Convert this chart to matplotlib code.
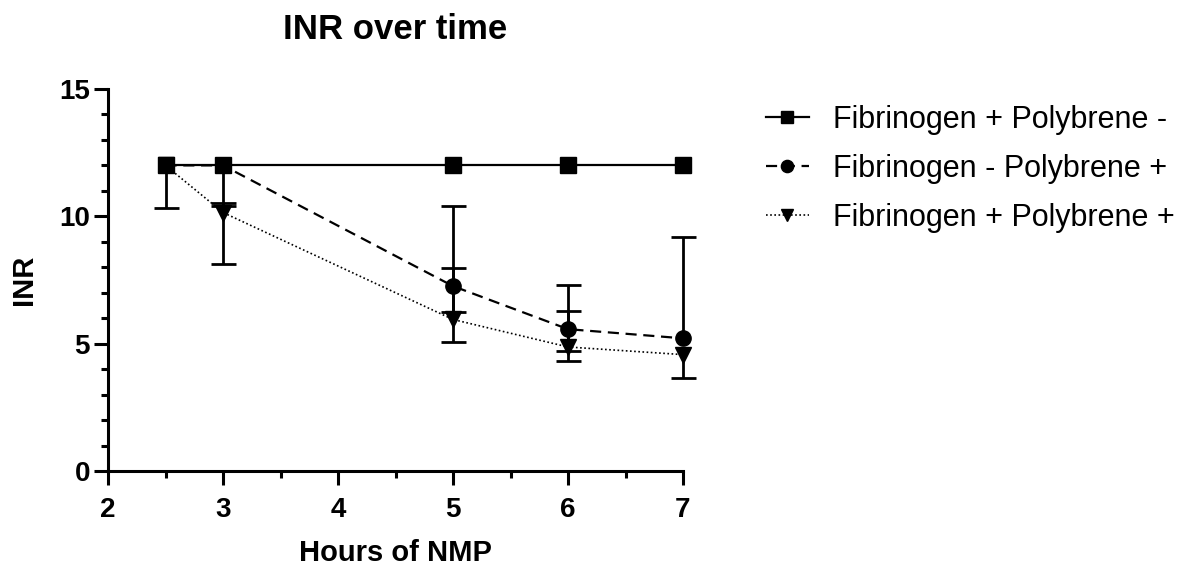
import matplotlib
matplotlib.use("Agg")
import matplotlib.pyplot as plt
import numpy as np

plt.rcParams['font.family'] = ['Liberation Sans', 'DejaVu Sans']

hours = [2.5, 3, 5, 6, 7]
labels = ["Fibrinogen + Polybrene -", "Fibrinogen - Polybrene +", "Fibrinogen + Polybrene +"]
sq_vals = [12, 12, 12, 12, 12]
ci_vals = [12, 12, 7.26, 5.57, 5.21]
ci_lo = [12, 10.42, 6.23, 4.72, 5.21]
ci_hi = [12, 12, 10.42, 7.29, 9.17]
tr_vals = [12, 10.15, 5.95, 4.87, 4.57]
tr_lo = [10.33, 8.11, 5.05, 4.32, 3.64]
tr_hi = [12, 10.53, 7.98, 6.29, 4.57]

fig = plt.figure(figsize=(11.82, 5.68), dpi=100)
ax = fig.add_axes([108/1182, 1-471/568, (683-108)/1182, (471-89)/568])

lw_err = 2.0
ci_err = [np.array(ci_vals) - np.array(ci_lo), np.array(ci_hi) - np.array(ci_vals)]
tr_err = [np.array(tr_vals) - np.array(tr_lo), np.array(tr_hi) - np.array(tr_vals)]

for vals, err in [(tr_vals, tr_err), (ci_vals, ci_err)]:
    e = np.array(err)
    mask_lo = e[0] > 0
    mask_hi = e[1] > 0
    eb = ax.errorbar(hours, vals, yerr=err, fmt='none', ecolor='black', elinewidth=lw_err,
                     capsize=0, zorder=2)
    for art in eb.lines[2]:
        art.set_clip_on(False)
    xs = np.array(hours)
    vs = np.array(vals)
    ax.plot(xs[mask_lo], (vs - e[0])[mask_lo], ls='none', marker='_', markersize=18,
            markeredgewidth=lw_err, color='black', clip_on=False, zorder=2)
    ax.plot(xs[mask_hi], (vs + e[1])[mask_hi], ls='none', marker='_', markersize=18,
            markeredgewidth=lw_err, color='black', clip_on=False, zorder=2)

h1, = ax.plot(hours, sq_vals, color='black', lw=1.6, marker='s', markersize=11, zorder=4,
              label=labels[0], clip_on=False)
h2, = ax.plot(hours, ci_vals, color='black', lw=1.6, ls=(0, (5, 3)), marker='o', markersize=11,
              zorder=3, label=labels[1], clip_on=False)
h3, = ax.plot(hours, tr_vals, color='black', lw=1.2, ls=(0, (1, 1.5)), marker='v', markersize=11,
              zorder=3, label=labels[2], clip_on=False)

ax.set_xlim(2, 7)
ax.set_ylim(0, 15)
ax.set_xticks([2, 3, 4, 5, 6, 7])
ax.set_xticks(np.arange(2, 7.01, 0.5), minor=True)
ax.set_yticks([0, 5, 10, 15])
ax.set_yticks(np.arange(0, 15.01, 1), minor=True)

for s in ['top', 'right']:
    ax.spines[s].set_visible(False)
for s in ['left', 'bottom']:
    ax.spines[s].set_linewidth(2.2)

ax.tick_params(which='major', length=10, width=2.2, labelsize=20)
ax.tick_params(axis='x', which='major', pad=9)
ax.tick_params(axis='y', which='major', pad=3)
ax.tick_params(which='minor', length=5, width=2.2)
for lab in ax.get_xticklabels() + ax.get_yticklabels():
    lab.set_fontweight('bold')

ax.set_xlabel("Hours of NMP", fontsize=21, fontweight='bold', labelpad=11)
ax.set_ylabel("INR", fontsize=21, fontweight='bold', labelpad=15)
ax.set_title("INR over time", fontsize=25, fontweight='bold', pad=36)

leg = fig.legend(handles=[h1, h2, h3], loc='upper left', bbox_to_anchor=(766/1182, 1-105/568),
                 frameon=False, fontsize=22, handlelength=1.4, labelspacing=0.62,
                 handletextpad=0.8, markerscale=0.8, borderpad=0, borderaxespad=0)

fig.savefig("out.png", dpi=100)
